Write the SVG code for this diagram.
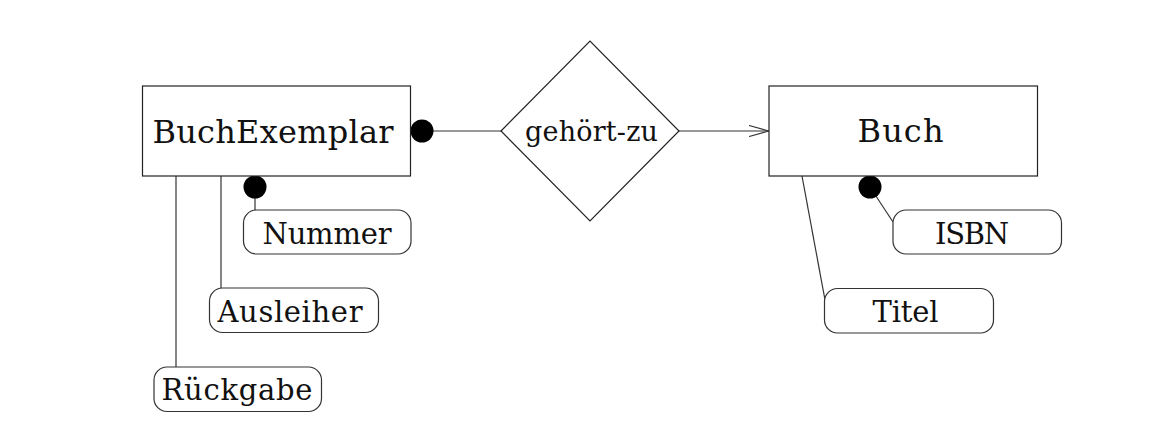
<svg xmlns="http://www.w3.org/2000/svg" width="1159" height="447" viewBox="0 0 1159 447">
<style>
.box{fill:#fff;stroke:#222;stroke-width:1.2}
.attr{fill:#fff;stroke:#333;stroke-width:1.2}
.ln{fill:none;stroke:#333;stroke-width:1.2}
.dot{fill:#000}
text{font-family:"DejaVu Serif","Liberation Serif",serif;fill:#111;text-anchor:middle}
.big{font-size:32px}
.mid{font-size:27px}
.sm{font-size:29px}
</style>
<defs>
<marker id="open" viewBox="0 0 20 12" refX="20" refY="6" markerWidth="20" markerHeight="12" markerUnits="userSpaceOnUse" orient="auto">
<path d="M0,0.5 L20,6 L0,11.5" fill="none" stroke="#333" stroke-width="1.2"/>
</marker>
</defs>
<rect width="1159" height="447" fill="#fff"/>
<g id="connectors">
<line class="ln" x1="422" y1="131" x2="501" y2="131"/>
<line class="ln" x1="679" y1="131" x2="769" y2="131" marker-end="url(#open)"/>
<line class="ln" x1="255" y1="187" x2="255" y2="210"/>
<line class="ln" x1="221" y1="176" x2="221" y2="288"/>
<line class="ln" x1="176" y1="176" x2="176" y2="367"/>
<line class="ln" x1="870" y1="187" x2="893" y2="222"/>
<line class="ln" x1="802" y1="176" x2="825" y2="300"/>
<circle class="dot" cx="422" cy="131" r="11.5"/>
<circle class="dot" cx="255" cy="187" r="11.5"/>
<circle class="dot" cx="870" cy="187" r="11.5"/>
</g>
<g id="BuchExemplar">
<rect class="box" x="142.5" y="86" width="268" height="90"/>
<text class="big" x="273" y="142.5" textLength="241">BuchExemplar</text>
</g>
<g id="gehoert-zu">
<polygon class="box" points="501,131 590,41 679,131 590,221"/>
<text class="mid" x="591.5" y="141" textLength="133">gehört-zu</text>
</g>
<g id="Buch">
<rect class="box" x="769" y="86" width="268.5" height="90"/>
<text class="big" x="900.5" y="141.5" textLength="86">Buch</text>
</g>
<g id="Nummer">
<rect class="attr" x="243.5" y="210" width="167.5" height="44" rx="13"/>
<text class="sm" x="327" y="243.5" textLength="129">Nummer</text>
</g>
<g id="Ausleiher">
<rect class="attr" x="209.5" y="288" width="169" height="44.5" rx="13"/>
<text class="sm" x="290" y="321.5" textLength="145">Ausleiher</text>
</g>
<g id="Rueckgabe">
<rect class="attr" x="154" y="367" width="167.5" height="44.5" rx="13"/>
<text class="sm" x="237" y="399.5" textLength="151">Rückgabe</text>
</g>
<g id="ISBN">
<rect class="attr" x="893" y="210" width="168.5" height="44" rx="13"/>
<text class="sm" x="972" y="243.5" textLength="74">ISBN</text>
</g>
<g id="Titel">
<rect class="attr" x="824.5" y="288.5" width="169" height="44.5" rx="13"/>
<text class="sm" x="905.5" y="322" textLength="66">Titel</text>
</g>
</svg>
